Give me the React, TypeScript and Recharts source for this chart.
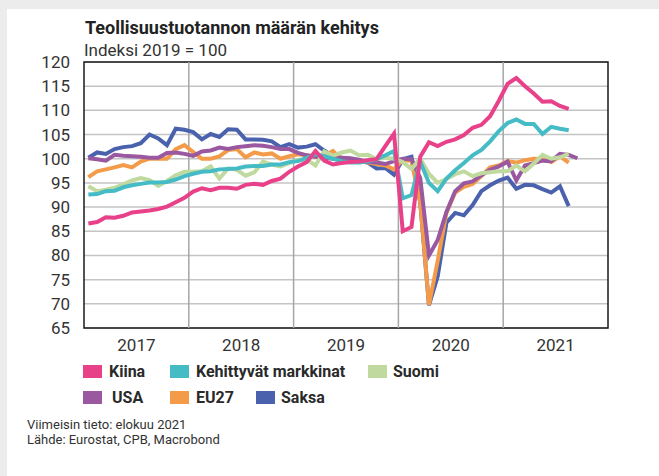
import {
  LineChart,
  Line,
  XAxis,
  YAxis,
  CartesianGrid,
  ReferenceLine,
  ReferenceArea,
} from "recharts";

// monthly index values, first value = Jan 2017
const kiina = [
  86.6, 86.9, 87.9, 87.8, 88.2, 88.9, 89.1, 89.3, 89.6, 90.1, 91.0, 91.9,
  93.2, 93.9, 93.5, 94.0, 94.0, 93.8, 94.6, 94.8, 94.6, 95.4, 95.9, 97.3,
  98.4, 99.3, 101.6, 99.6, 98.8, 99.1, 99.3, 99.4, 99.7, 99.9, 102.6, 105.2,
  85.0, 85.9, 100.4, 103.4, 102.6, 103.5, 104.0, 104.9, 106.4, 107.0, 108.8, 112.0,
  115.5, 116.7, 115.0, 113.5, 111.8, 111.9, 110.9, 110.3,
];
const kehittyvat = [
  92.6, 92.7, 93.3, 93.4, 94.1, 94.5, 94.8, 95.1, 95.1, 95.2, 95.7, 96.4,
  96.9, 97.3, 97.4, 97.8, 97.9, 98.0, 98.4, 98.5, 98.5, 98.8, 98.8, 99.3,
  99.5, 100.2, 100.9, 100.5, 100.0, 99.5, 99.2, 99.2, 99.4, 99.9, 100.7, 101.6,
  91.8, 92.5, 99.4, 95.0, 93.3, 95.9, 97.6, 99.1, 100.7, 101.8, 103.6, 105.7,
  107.4, 108.1, 107.2, 107.2, 105.1, 106.6, 106.2, 105.9,
];
const suomi = [
  94.3, 93.3, 93.6, 94.0, 94.7, 95.5, 96.0, 95.6, 94.4, 95.4, 96.6, 97.3,
  97.3, 97.4, 98.4, 95.9, 98.0, 97.7, 96.5, 97.2, 99.4, 98.8, 98.4, 99.1,
  99.8, 99.8, 98.6, 101.5, 100.6, 101.3, 101.7, 100.7, 100.8, 99.9, 100.2, 100.0,
  99.3, 97.9, 100.0, 96.9, 95.0, 95.8, 96.8, 97.4, 96.4, 97.0, 97.2, 97.4,
  97.4, 98.6, 97.4, 99.0, 100.8, 100.0, 100.3, 101.0,
];
const usa = [
  100.1, 99.9, 99.6, 100.8, 100.6, 100.5, 100.4, 100.2, 100.2, 101.2, 101.3, 101.0,
  100.6, 101.5, 101.7, 102.3, 102.0, 102.4, 102.6, 102.8, 102.7, 102.4, 102.0, 102.0,
  101.2, 100.7, 100.4, 100.2, 100.0, 100.2, 100.1, 99.8, 99.3, 99.2, 98.9, 99.5,
  100.0, 99.9, 96.0, 80.0, 83.2, 89.0, 93.3, 94.9, 95.3, 96.6, 97.7, 98.4,
  99.4, 95.5, 98.6, 99.1, 99.6, 99.5, 101.0, 100.8, 100.1,
];
const eu27 = [
  96.2, 97.4, 97.8, 98.2, 98.7, 98.2, 99.4, 100.0, 100.0, 100.0, 102.0, 102.8,
  101.4, 100.0, 100.0, 100.5, 101.8, 102.0, 100.3, 101.3, 100.9, 101.1, 100.0, 100.5,
  100.9, 100.7, 100.4, 100.5, 101.6, 99.9, 99.6, 99.4, 99.2, 98.9, 98.6, 97.8,
  99.8, 99.5, 91.0, 69.8, 78.9, 88.8, 93.0, 94.2, 94.8, 96.4, 98.2, 98.6,
  99.5, 99.2, 99.7, 100.0, 99.9, 99.3, 100.5, 99.2,
];
const saksa = [
  100.2, 101.3, 101.0, 102.0, 102.4, 102.6, 103.2, 105.0, 104.2, 102.8, 106.2, 106.0,
  105.5, 104.0, 105.1, 104.5, 106.1, 106.0, 104.0, 104.0, 103.9, 103.6, 102.4, 103.0,
  102.3, 102.5, 103.0, 101.7, 100.5, 100.2, 99.9, 99.5, 99.2, 98.0, 98.1, 96.7,
  99.9, 100.4, 91.0, 69.7, 75.7, 86.8, 88.8, 88.3, 90.4, 93.3, 94.5, 95.5,
  96.1, 93.8, 94.6, 94.5, 93.7, 93.0, 94.3, 90.2,
];

const years = ["2017", "2018", "2019", "2020", "2021"];
const yTicks = [65, 70, 75, 80, 85, 90, 95, 100, 105, 110, 115, 120];

const series = [
  { key: "Saksa", values: saksa, color: "#4a62ad" },
  { key: "EU27", values: eu27, color: "#f49b4a" },
  { key: "USA", values: usa, color: "#9a58a0" },
  { key: "Suomi", values: suomi, color: "#bfd99e" },
  { key: "Kehittyvät markkinat", values: kehittyvat, color: "#45bcc5" },
  { key: "Kiina", values: kiina, color: "#e8418a" },
];

const legendItems = [
  { name: "Kiina", color: "#e8418a", sq: 83, tx: 109, row: 0 },
  { name: "Kehittyvät markkinat", color: "#45bcc5", sq: 170, tx: 196, row: 0 },
  { name: "Suomi", color: "#bfd99e", sq: 368, tx: 393, row: 0 },
  { name: "USA", color: "#9a58a0", sq: 83, tx: 112, row: 1 },
  { name: "EU27", color: "#f49b4a", sq: 170, tx: 196, row: 1 },
  { name: "Saksa", color: "#4a62ad", sq: 256, tx: 281, row: 1 },
];

const months = saksa.length + 1;
const data = Array.from({ length: months }, (_, m) => {
  const row: Record<string, number | undefined> = { x: m + 0.5 };
  series.forEach((s) => {
    row[s.key] = s.values[m];
  });
  return row;
});

const font = "Roboto, 'Noto Sans', sans-serif";

export default function App() {
  return (
    <div
      style={{
        position: "relative",
        width: 659,
        height: 476,
        background: "#ececec",
        fontFamily: font,
        color: "#333",
        overflow: "hidden",
      }}
    >
      <style>{"body{margin:0}"}</style>
      <div style={{ position: "absolute", left: 7, top: 9, right: 0, bottom: 0, background: "#fff" }} />
      <div style={{ position: "absolute", left: 85, top: 18, fontSize: 18, fontWeight: 700, color: "#222", lineHeight: "20px" }}>
        Teollisuustuotannon määrän kehitys
      </div>
      <div style={{ position: "absolute", left: 84, top: 40, fontSize: 17, lineHeight: "20px" }}>
        Indeksi 2019 = 100
      </div>
      <div style={{ position: "absolute", left: 0, top: 0 }}>
        <LineChart width={659} height={476} data={data} margin={{ top: 62, right: 51, left: 24, bottom: 118 }}>
          <CartesianGrid vertical={false} stroke="#c4c4c4" strokeWidth={1.5} />
          <XAxis
            dataKey="x"
            type="number"
            domain={[0, 60]}
            ticks={[6, 18, 30, 42, 54]}
            interval={0}
            tickFormatter={(v) => years[Math.floor(v / 12)]}
            axisLine={false}
            tickLine={false}
            tickSize={0}
            tickMargin={11}
            height={30}
            tick={{ fontSize: 17, fill: "#333", fontFamily: font }}
          />
          <YAxis
            type="number"
            domain={[65, 120]}
            ticks={yTicks}
            interval={0}
            axisLine={false}
            tickLine={false}
            tickSize={0}
            tickMargin={14}
            width={60}
            tick={{ fontSize: 17, fill: "#333", fontFamily: font }}
          />
          {[12, 24, 36, 48].map((v) => (
            <ReferenceLine key={v} x={v} stroke="#a6a6a6" strokeWidth={1.5} />
          ))}
          {series.map((s) => (
            <Line
              key={s.key}
              dataKey={s.key}
              type="linear"
              stroke={s.color}
              strokeWidth={4}
              dot={false}
              activeDot={false}
              isAnimationActive={false}
              strokeLinejoin="miter"
            />
          ))}
          <ReferenceArea x1={0} x2={60} y1={65} y2={120} fill="none" stroke="#1a1a1a" strokeWidth={1.5} />
        </LineChart>
      </div>
      {legendItems.map((it) => (
        <div key={it.name}>
          <div
            style={{
              position: "absolute",
              left: it.sq,
              top: 365 + it.row * 26,
              width: 19,
              height: 13,
              background: it.color,
            }}
          />
          <div
            style={{
              position: "absolute",
              left: it.tx,
              top: 362 + it.row * 26,
              fontSize: 16,
              fontWeight: 700,
              lineHeight: "20px",
              color: "#2a2a2a",
              whiteSpace: "nowrap",
            }}
          >
            {it.name}
          </div>
        </div>
      ))}
      <div style={{ position: "absolute", left: 27, top: 417, fontSize: 13, lineHeight: "15px" }}>
        Viimeisin tieto: elokuu 2021
        <br />
        Lähde: Eurostat, CPB, Macrobond
      </div>
    </div>
  );
}
